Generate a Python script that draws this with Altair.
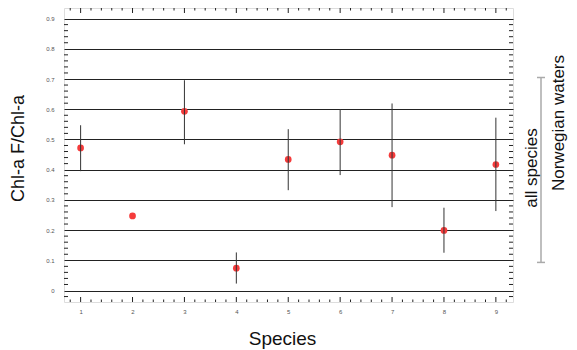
import altair as alt
import pandas as pd

# ---- data ----
species = [1, 2, 3, 4, 5, 6, 7, 8, 9]
ratio = [0.472, 0.247, 0.593, 0.074, 0.434, 0.492, 0.448, 0.199, 0.417]
err_low = [0.395, None, 0.484, 0.023, 0.332, 0.382, 0.276, 0.125, 0.263]
err_high = [0.547, None, 0.696, 0.126, 0.534, 0.600, 0.619, 0.274, 0.572]

all_species_range = [0.093, 0.705]

y_grid = [0, 0.1, 0.2, 0.3, 0.4, 0.5, 0.6, 0.7, 0.8, 0.9]
y_minor = [-0.02, 0.02, 0.04, 0.06, 0.08, 0.12, 0.14, 0.16, 0.18,
           0.22, 0.24, 0.26, 0.28, 0.32, 0.34, 0.36, 0.38,
           0.42, 0.44, 0.46, 0.48, 0.52, 0.54, 0.56, 0.58,
           0.62, 0.64, 0.66, 0.68, 0.72, 0.74, 0.76, 0.78,
           0.82, 0.84, 0.86, 0.88]
x_major = [1, 2, 3, 4, 5, 6, 7, 8, 9]
x_minor = [0.8, 1.2, 1.4, 1.6, 1.8, 2.2, 2.4, 2.6, 2.8, 3.2, 3.4, 3.6, 3.8,
           4.2, 4.4, 4.6, 4.8, 5.2, 5.4, 5.6, 5.8, 6.2, 6.4, 6.6, 6.8,
           7.2, 7.4, 7.6, 7.8, 8.2, 8.4, 8.6, 8.8, 9.2]

W, H = 449, 294
FONT = "Liberation Sans"

xs = alt.Scale(domain=[0.68, 9.33], nice=False, zero=False)
ys = alt.Scale(domain=[-0.038, 0.935], nice=False, zero=False)

x_axis = alt.Axis(values=x_major, format="d", grid=False, domain=False, ticks=False,
                  labelFontSize=6, labelColor="#555", labelFont=FONT, labelPadding=6,
                  title="Species", titleFont=FONT, titleFontSize=19,
                  titleFontWeight="normal", titleColor="#111",
                  titleX=218, titleY=36, titleBaseline="middle")
y_axis = alt.Axis(values=y_grid, grid=True, gridColor="#222", gridWidth=1, gridOpacity=1,
                  domain=False, ticks=False,
                  labelExpr="datum.value == 0 ? '0' : format(datum.value, '.1f')",
                  labelFontSize=6, labelColor="#555", labelFont=FONT, labelPadding=10,
                  title="Chl-a F/Chl-a", titleFont=FONT, titleFontSize=18,
                  titleFontWeight="normal", titleColor="#111",
                  titleX=-46, titleY=140, titleAngle=270, titleAlign="center",
                  titleBaseline="middle")


def X(f):
    return alt.X(f, scale=xs, axis=x_axis, title="Species")


def Y(f):
    return alt.Y(f, scale=ys, axis=y_axis, title="Chl-a F/Chl-a")


df = pd.DataFrame({"species": species, "ratio": ratio,
                   "lo": err_low, "hi": err_high})
df_err = df.dropna()

points = alt.Chart(df).mark_point(filled=True, color="#f53b3b", opacity=1, size=45).encode(
    x=X("species:Q"), y=Y("ratio:Q"))

errbars = alt.Chart(df_err).mark_rule(color="#333", strokeWidth=1).encode(
    x=X("species:Q"), y=Y("lo:Q"), y2="hi:Q")

# minor ticks
dfym = pd.DataFrame({"v": y_minor})
left_ticks = alt.Chart(dfym).mark_rule(color="#222", strokeWidth=1).encode(
    y=Y("v:Q"), x=alt.value(0), x2=alt.value(4))
right_ticks = alt.Chart(dfym).mark_rule(color="#222", strokeWidth=1).encode(
    y=Y("v:Q"), x=alt.value(W - 4), x2=alt.value(W))

dfxM = pd.DataFrame({"v": x_major})
dfxm = pd.DataFrame({"v": x_minor})
bot_major = alt.Chart(dfxM).mark_rule(color="#222", strokeWidth=1).encode(
    x=X("v:Q"), y=alt.value(H), y2=alt.value(H - 5))
bot_minor = alt.Chart(dfxm).mark_rule(color="#222", strokeWidth=1).encode(
    x=X("v:Q"), y=alt.value(H), y2=alt.value(H - 2.5))
top_major = alt.Chart(dfxM).mark_rule(color="#222", strokeWidth=1).encode(
    x=X("v:Q"), y=alt.value(0), y2=alt.value(5))
top_minor = alt.Chart(dfxm).mark_rule(color="#222", strokeWidth=1).encode(
    x=X("v:Q"), y=alt.value(0), y2=alt.value(2.5))

# bracket on the right
dfr = pd.DataFrame({"lo": [all_species_range[0]], "hi": [all_species_range[1]]})
bracket = alt.Chart(dfr).mark_rule(color="#aaa", strokeWidth=1.5, clip=False).encode(
    x=alt.value(477), y=Y("lo:Q"), y2="hi:Q")
dfc = pd.DataFrame({"v": all_species_range})
caps = alt.Chart(dfc).mark_rule(color="#aaa", strokeWidth=1.5, clip=False).encode(
    x=alt.value(473), x2=alt.value(481), y=Y("v:Q"))

lbl_all = alt.Chart(pd.DataFrame({"t": ["all species"]})).mark_text(
    angle=270, font=FONT, fontSize=17, color="#111", align="center", baseline="middle"
).encode(text="t:N", x=alt.value(468), y=alt.value(160))
lbl_norw = alt.Chart(pd.DataFrame({"t": ["Norwegian waters"]})).mark_text(
    angle=270, font=FONT, fontSize=17, color="#111", align="center", baseline="middle"
).encode(text="t:N", x=alt.value(495), y=alt.value(115))

chart = alt.layer(
    points, errbars, left_ticks, right_ticks, bot_major, bot_minor, top_major, top_minor,
    bracket, caps, lbl_all, lbl_norw
).properties(
    width=W, height=H,
    autosize=alt.AutoSizeParams(type="none"),
    padding={"left": 56, "top": 0, "right": 56, "bottom": 48},
).configure_view(stroke="#111", strokeWidth=1.2).configure(background="white")

chart.save("out.html", embed_options={"renderer": "svg", "actions": False})
